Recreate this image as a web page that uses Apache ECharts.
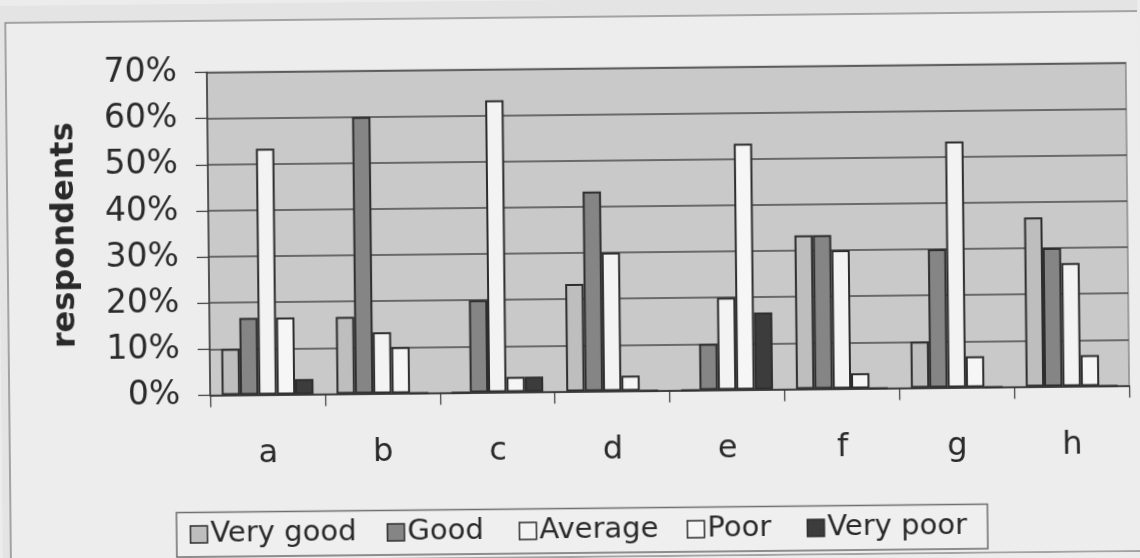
<!DOCTYPE html>
<html>
<head>
<meta charset="utf-8">
<title>respondents</title>
<script src="https://cdn.jsdelivr.net/npm/echarts@6/dist/echarts.min.js"></script>
<style>
  html, body { margin: 0; padding: 0; background: #ececec; overflow: hidden; }
  #chart { width: 1140px; height: 558px; transform: rotate(-0.6deg); transform-origin: 50% 50%; }
</style>
</head>
<body>
<div id="chart"></div>
<script>
// Survey ratings per item (share of respondents, %)
const categories = ['a', 'b', 'c', 'd', 'e', 'f', 'g', 'h'];
const seriesNames = ['Very good', 'Good', 'Average', 'Poor', 'Very poor'];
const veryGood = [10, 16.7, 0, 23.3, 0, 33.3, 10, 36.7];
const good     = [16.7, 60, 20, 43.3, 10, 33.3, 30, 30];
const average  = [53.3, 13.3, 63.3, 30, 20, 30, 53.3, 26.7];
const poor     = [16.7, 10, 3.3, 3.3, 53.3, 3.3, 6.7, 6.7];
const veryPoor = [3.3, 0, 3.3, 0, 16.7, 0, 0, 0];
const yTicks   = [0, 10, 20, 30, 40, 50, 60, 70];

const values = [veryGood, good, average, poor, veryPoor];
const fills = ['#bebebe', '#858585', '#f3f3f3', '#f6f6f6', '#3c3c3c'];
const legendLeft = [187, 384, 516, 684, 804];
const FONT = 'DejaVu Sans';

const chart = echarts.init(document.getElementById('chart'), null, { renderer: 'canvas' });

const series = seriesNames.map((name, i) => ({
  name: name,
  type: 'bar',
  data: values[i],
  barGap: '0%',
  barCategoryGap: '20%',
  itemStyle: { color: fills[i], borderColor: '#2e2e2e', borderWidth: 2 }
}));

// one legend block per entry so each sits at its own spot in the key box
const legends = seriesNames.map((name, i) => ({
  data: [name],
  left: legendLeft[i],
  top: 516,
  padding: 0,
  icon: 'rect',
  itemWidth: 17,
  itemHeight: 17,
  itemStyle: { borderColor: '#2e2e2e', borderWidth: 1.5 },
  textStyle: { fontFamily: FONT, fontSize: 29, color: '#2a2a2a', padding: [0, 0, 0, -2] }
}));

chart.setOption({
  animation: false,
  backgroundColor: '#e4e4e4',
  graphic: [
    {
      type: 'rect', z: -10,
      shape: { x: 8, y: 17, width: 1250, height: 540 },
      style: { fill: '#ededed', stroke: '#8c8c8c', lineWidth: 1.5 }
    },
    {
      type: 'rect', z: -5,
      shape: { x: 174, y: 508.5, width: 811, height: 44.5 },
      style: { fill: '#efefef', stroke: '#6e6e6e', lineWidth: 1.5 }
    }
  ],
  legend: legends,
  grid: {
    left: 209, right: 12, top: 68.5, bottom: 166.5,
    show: true, backgroundColor: '#c9c9c9', borderColor: '#8a8a8a', borderWidth: 1.5
  },
  xAxis: {
    type: 'category',
    data: categories,
    axisLine: { lineStyle: { color: '#3a3a3a', width: 1.5 } },
    axisTick: { show: true, length: 12, lineStyle: { color: '#3a3a3a', width: 1.2 } },
    axisLabel: { fontFamily: FONT, fontSize: 32, color: '#2a2a2a', margin: 43 }
  },
  yAxis: {
    type: 'value',
    min: yTicks[0],
    max: yTicks[yTicks.length - 1],
    interval: 10,
    name: 'respondents',
    nameLocation: 'middle',
    nameRotate: 90,
    nameGap: 143,
    nameTextStyle: { fontFamily: FONT, fontWeight: 'bold', fontSize: 32, color: '#2a2a2a', verticalAlign: 'middle' },
    axisLine: { show: true, lineStyle: { color: '#3a3a3a', width: 1.5 } },
    axisTick: { show: true, length: 12, lineStyle: { color: '#3a3a3a', width: 1.2 } },
    axisLabel: { fontFamily: FONT, fontSize: 33, color: '#2a2a2a', margin: 30, formatter: '{value}%' },
    splitLine: { lineStyle: { color: '#4a4a4a', width: 1.5 } }
  },
  series: series
});
</script>
</body>
</html>
